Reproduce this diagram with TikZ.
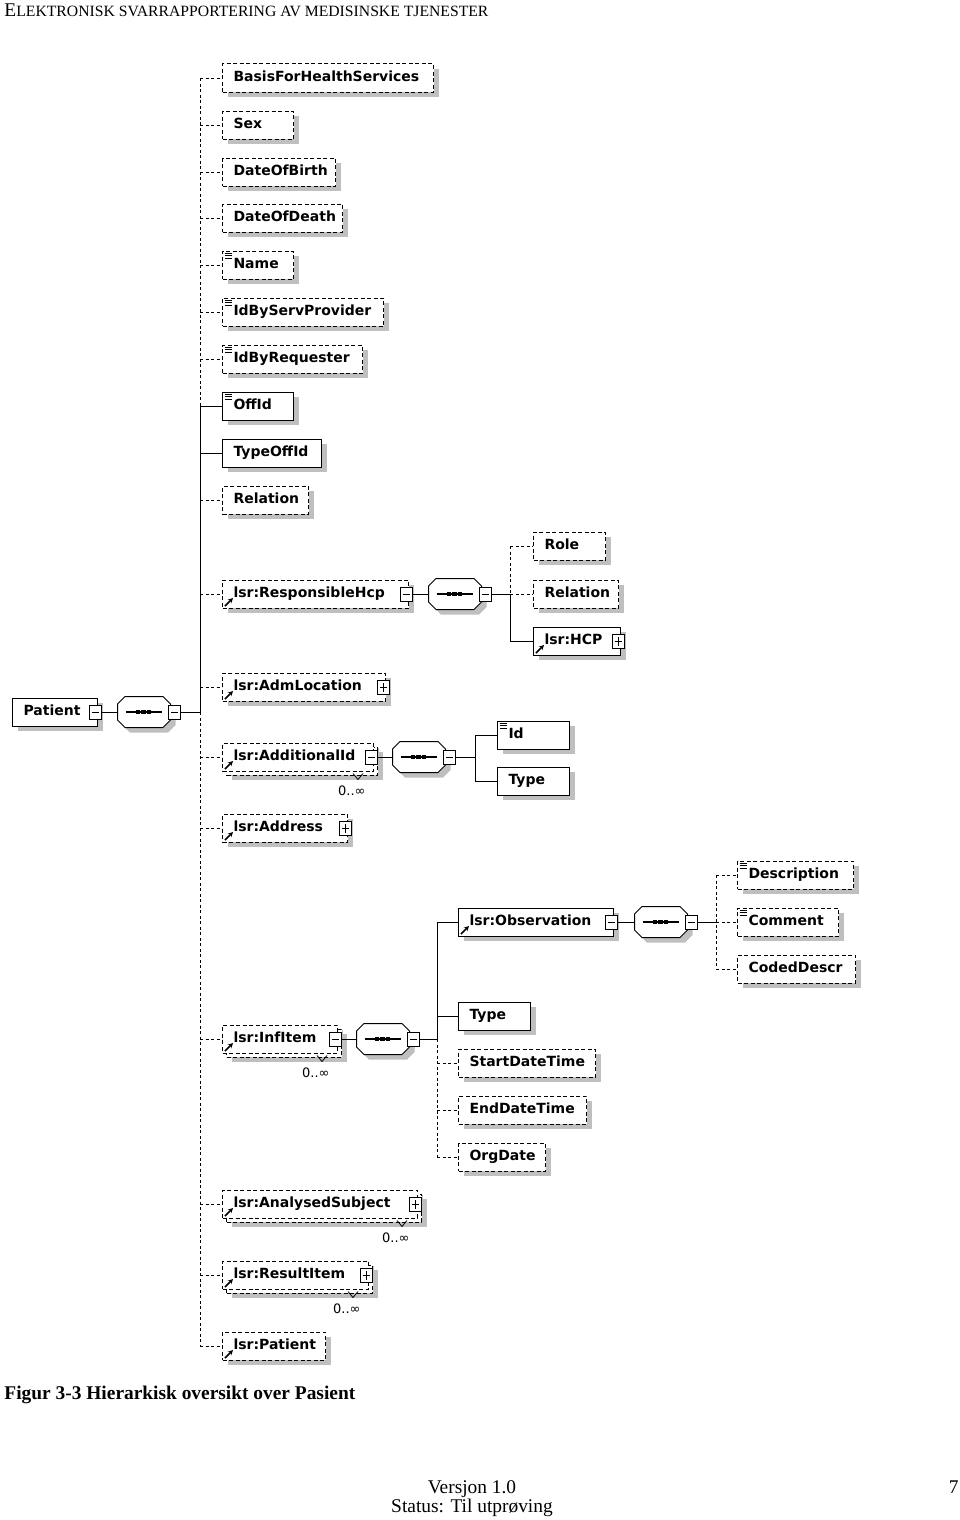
\documentclass[tikz,border=0pt]{standalone}
\usepackage{fontspec}
\setmainfont{Liberation Serif}
\newfontfamily\boxfont{DejaVu Sans}
\usepackage{tikz}
\usetikzlibrary{positioning, shadows, arrows.meta}
\hyphenpenalty=10000
\exhyphenpenalty=10000

% octagon of a sequence compositor, drawn round a named node
\newcommand\octpath[1]{([xshift=7.5pt]#1.north west) -- ([xshift=-7.5pt]#1.north east)
  -- ([yshift=-7.5pt]#1.north east) -- ([yshift=7.5pt]#1.south east)
  -- ([xshift=-7.5pt]#1.south east) -- ([xshift=7.5pt]#1.south west)
  -- ([yshift=7.5pt]#1.south west) -- ([yshift=-7.5pt]#1.north west) -- cycle}
\newcommand\seqoct[1]{%
  \fill[black!25, transform canvas={shift={(5pt,-5pt)}}] \octpath{#1};
  \draw[fill=white, line width=1pt] \octpath{#1};
  \draw[line width=1.2pt] ([xshift=8pt]#1.west) -- ([xshift=-9pt]#1.east);
  \foreach \d in {-6,-0.5,5}
    \fill ([xshift=\d pt]#1.center) +(-2.1pt,-2.1pt) rectangle +(2.1pt,2.1pt);}

\begin{document}
\begin{tikzpicture}[x=1pt, y=-1pt, line width=1pt,
      graysh/.style={general shadow={fill=black!25, shadow xshift=5pt,
          shadow yshift=-5pt}},
      elbox/.style={rectangle, draw=black, fill=white, anchor=west, graysh,
          font=\boxfont\bfseries\fontsize{14}{16}\selectfont, align=left,
          inner xsep=11pt, inner ysep=0pt, minimum height=28pt,
          text height=10.5pt, text depth=3pt},
      elopt/.style={elbox, dash pattern=on 4pt off 2.5pt},
      elreq/.style={elbox},
      multiel/.style={general shadow={fill=black!25, shadow xshift=9pt,
          shadow yshift=-9pt},
          copy shadow={shadow xshift=4pt, shadow yshift=-4pt, draw=black,
          fill=white, dash pattern=on 4pt off 2.5pt}},
      refel/.style={path picture={\draw[solid, line width=1.5pt,
            -{Stealth[length=5pt, width=5pt]}]
          ([shift={(2.5pt,2pt)}]path picture bounding box.south west) -- ++(8pt,8pt);}},
      docel/.style={path picture={\foreach \k in {2.5,4.8,7.1}
          \draw[solid, line width=0.8pt]
          ([shift={(2pt,-\k pt)}]path picture bounding box.north west) -- ++(7pt,0pt);}},
      tgl/.style={rectangle, draw=black, fill=white, solid, minimum width=12pt,
          minimum height=14pt, inner sep=0pt},
      tglm/.style={tgl, path picture={\draw
          ([xshift=2.5pt]path picture bounding box.west) --
          ([xshift=-2.5pt]path picture bounding box.east);}},
      tglp/.style={tgl, path picture={\draw
          ([xshift=2.5pt]path picture bounding box.west) --
          ([xshift=-2.5pt]path picture bounding box.east);
          \draw ([yshift=-2.5pt]path picture bounding box.north) --
          ([yshift=2.5pt]path picture bounding box.south);}},
      seqbox/.style={rectangle, minimum width=52pt, minimum height=30pt,
          inner sep=0pt, append after command={\pgfextra{\seqoct{\tikzlastnode}}}},
      dline/.style={dash pattern=on 3pt off 2.5pt},
      occ/.style={anchor=east, inner sep=0pt,
          font=\boxfont\fontsize{13}{15}\selectfont},
      occv/.style={line width=0.8pt},
      pagetxt/.style={inner sep=0pt, font=\fontsize{19.4}{22}\selectfont},
    ]
    \useasboundingbox (0,0) rectangle (960,1520);

    %% ── PAGE TEXT ───────────────────────────────────────────────────────────
    \node[pagetxt, anchor=base west] (header) at (4,17)
    {E{\fontsize{15.7}{18}\selectfont LEKTRONISK SVARRAPPORTERING AV MEDISINSKE TJENESTER}};
    \node[pagetxt, anchor=base west, font=\bfseries\fontsize{19.4}{22}\selectfont]
    (caption) at (4,1399) {Figur 3-3 Hierarkisk oversikt over Pasient};
    \node[pagetxt, anchor=base] (version) at (472,1493) {Versjon 1.0};
    \node[pagetxt, anchor=base] (status) at (472,1512) {Status: Til utprøving};
    \node[pagetxt, anchor=base east] (pageno) at (959,1493) {7};

    %% ── PATIENT ROOT ────────────────────────────────────────────────────────
    \node[elreq, text width=63pt] (patient) at (12,712) {Patient};
    \node[tglm] (patient-t) at ([xshift=-3pt]patient.east) {};
    \node[seqbox] (seqP) at (144,712) {};
    \node[tglm] (seqP-t) at ([xshift=4pt]seqP.east) {};
    \coordinate (busP) at (200,712);

    %% ── CHILDREN OF PATIENT ─────────────────────────────────────────────────
    \node[elopt, text width=189pt] (basis) at (222,78) {BasisForHealthServices};
    \node[elopt, text width=49pt] (sex) at (222,125) {Sex};
    \node[elopt, text width=91pt] (dob) at (222,172) {DateOfBirth};
    \node[elopt, text width=98pt] (dod) at (222,218) {DateOfDeath};
    \node[elopt, docel, text width=49pt] (name) at (222,265) {Name};
    \node[elopt, docel, text width=139pt] (idserv) at (222,312) {IdByServProvider};
    \node[elopt, docel, text width=118pt] (idreq) at (222,359) {IdByRequester};
    \node[elreq, docel, text width=49pt] (offid) at (222,406) {OffId};
    \node[elreq, text width=77pt] (typeoffid) at (222,453) {TypeOffId};
    \node[elopt, text width=64pt] (relation) at (222,500) {Relation};
    \node[elopt, refel, text width=164pt] (resphcp) at (222,594) {lsr:ResponsibleHcp};
    \node[tglm] (resphcp-t) at ([xshift=-3pt]resphcp.east) {};
    \node[elopt, refel, text width=141pt] (admloc) at (222,687) {lsr:AdmLocation};
    \node[tglp] (admloc-t) at ([xshift=-3pt]admloc.east) {};
    \node[elopt, refel, multiel, text width=129pt] (addid) at (222,757) {lsr:AdditionalId};
    \node[tglm] (addid-t) at ([xshift=-3pt]addid.east) {};
    \node[elopt, refel, text width=103pt] (address) at (222,828) {lsr:Address};
    \node[tglp] (address-t) at ([xshift=-3pt]address.east) {};
    \node[elopt, refel, multiel, text width=93pt] (infitem) at (222,1039) {lsr:InfItem};
    \node[tglm] (infitem-t) at ([xshift=-3pt]infitem.east) {};
    \node[elopt, refel, multiel, text width=173pt] (analsubj) at (222,1204) {lsr:AnalysedSubject};
    \node[tglp] (analsubj-t) at ([xshift=-3pt]analsubj.east) {};
    \node[elopt, refel, multiel, text width=124pt] (resultitem) at (222,1275) {lsr:ResultItem};
    \node[tglp] (resultitem-t) at ([xshift=-3pt]resultitem.east) {};
    \node[elopt, refel, text width=81pt] (lsrpat) at (222,1346) {lsr:Patient};

    %% occurrence marks
    \foreach \n in {addid, infitem, analsubj, resultitem} {
      \node[occ] (\n-occ) at ([xshift=-8pt, yshift=-19pt]\n.south east) {0..∞};
      \draw[occv] ([xshift=-21pt, yshift=-2pt]\n.south east) -- ++(5pt,-6pt) -- ++(5pt,6pt);
    }

    %% ── RESPONSIBLE HCP ─────────────────────────────────────────────────────
    \node[seqbox] (seqR) at (455,594) {};
    \node[tglm] (seqR-t) at ([xshift=4pt]seqR.east) {};
    \coordinate (busR) at (510,594);
    \node[elopt, text width=50pt] (role) at (533,546) {Role};
    \node[elopt, text width=63pt] (relation2) at (533,594) {Relation};
    \node[elreq, refel, text width=65pt] (hcp) at (533,641) {lsr:HCP};
    \node[tglp] (hcp-t) at ([xshift=-3pt]hcp.east) {};

    %% ── ADDITIONAL ID ───────────────────────────────────────────────────────
    \node[seqbox] (seqA) at (419,757) {};
    \node[tglm] (seqA-t) at ([xshift=4pt]seqA.east) {};
    \coordinate (busA) at (475,757);
    \node[elreq, docel, text width=50pt] (idA) at (497,735) {Id};
    \node[elreq, text width=50pt] (typeA) at (497,781) {Type};

    %% ── INF ITEM ────────────────────────────────────────────────────────────
    \node[seqbox] (seqI) at (383,1039) {};
    \node[tglm] (seqI-t) at ([xshift=4pt]seqI.east) {};
    \coordinate (busI) at (437,1039);
    \node[elreq, refel, text width=133pt] (obs) at (458,922) {lsr:Observation};
    \node[tglm] (obs-t) at ([xshift=-3pt]obs.east) {};
    \node[elreq, text width=50pt] (typeI) at (458,1016) {Type};
    \node[elopt, text width=115pt] (startdt) at (458,1063) {StartDateTime};
    \node[elopt, text width=106pt] (enddt) at (458,1110) {EndDateTime};
    \node[elopt, text width=65pt] (orgdate) at (458,1157) {OrgDate};

    %% ── OBSERVATION ─────────────────────────────────────────────────────────
    \node[seqbox] (seqO) at (661,922) {};
    \node[tglm] (seqO-t) at ([xshift=4pt]seqO.east) {};
    \coordinate (busO) at (716,922);
    \node[elopt, docel, text width=94pt] (descr) at (737,875) {Description};
    \node[elopt, docel, text width=79pt] (comment) at (737,922) {Comment};
    \node[elopt, text width=96pt] (codeddescr) at (737,969) {CodedDescr};

    %% ── CONNECTORS ──────────────────────────────────────────────────────────
    \draw (patient-t) -- (seqP);
    \draw (seqP-t) -- (busP);
    \draw[dline] (basis.west -| busP) -- (offid.west -| busP);
    \draw (offid.west -| busP) -- (busP);
    \draw[dline] (busP) -- (lsrpat.west -| busP);
    \foreach \n in {basis, sex, dob, dod, name, idserv, idreq, relation, resphcp,
        admloc, addid, address, infitem, analsubj, resultitem, lsrpat}
      \draw[dline] (\n.west -| busP) -- (\n.west);
    \foreach \n in {offid, typeoffid}
      \draw (\n.west -| busP) -- (\n.west);

    \draw (resphcp-t) -- (seqR);
    \draw (seqR-t) -- (busR);
    \draw[dline] (role.west -| busR) -- (busR);
    \draw (busR) -- (hcp.west -| busR) -- (hcp.west);
    \draw[dline] (role.west -| busR) -- (role.west);
    \draw[dline] (busR) -- (relation2.west);

    \draw (addid-t) -- (seqA);
    \draw (seqA-t) -- (busA);
    \draw (idA.west) -- (idA.west -| busA) -- (typeA.west -| busA) -- (typeA.west);

    \draw (infitem-t) -- (seqI);
    \draw (seqI-t) -- (busI);
    \draw (obs.west) -- (obs.west -| busI) -- (busI);
    \draw (typeI.west -| busI) -- (typeI.west);
    \draw[dline] (busI) -- (orgdate.west -| busI);
    \foreach \n in {startdt, enddt, orgdate}
      \draw[dline] (\n.west -| busI) -- (\n.west);

    \draw (obs-t) -- (seqO);
    \draw (seqO-t) -- (busO);
    \draw[dline] (descr.west -| busO) -- (codeddescr.west -| busO);
    \foreach \n in {descr, comment, codeddescr}
      \draw[dline] (\n.west -| busO) -- (\n.west);

  \end{tikzpicture}
\end{document}
